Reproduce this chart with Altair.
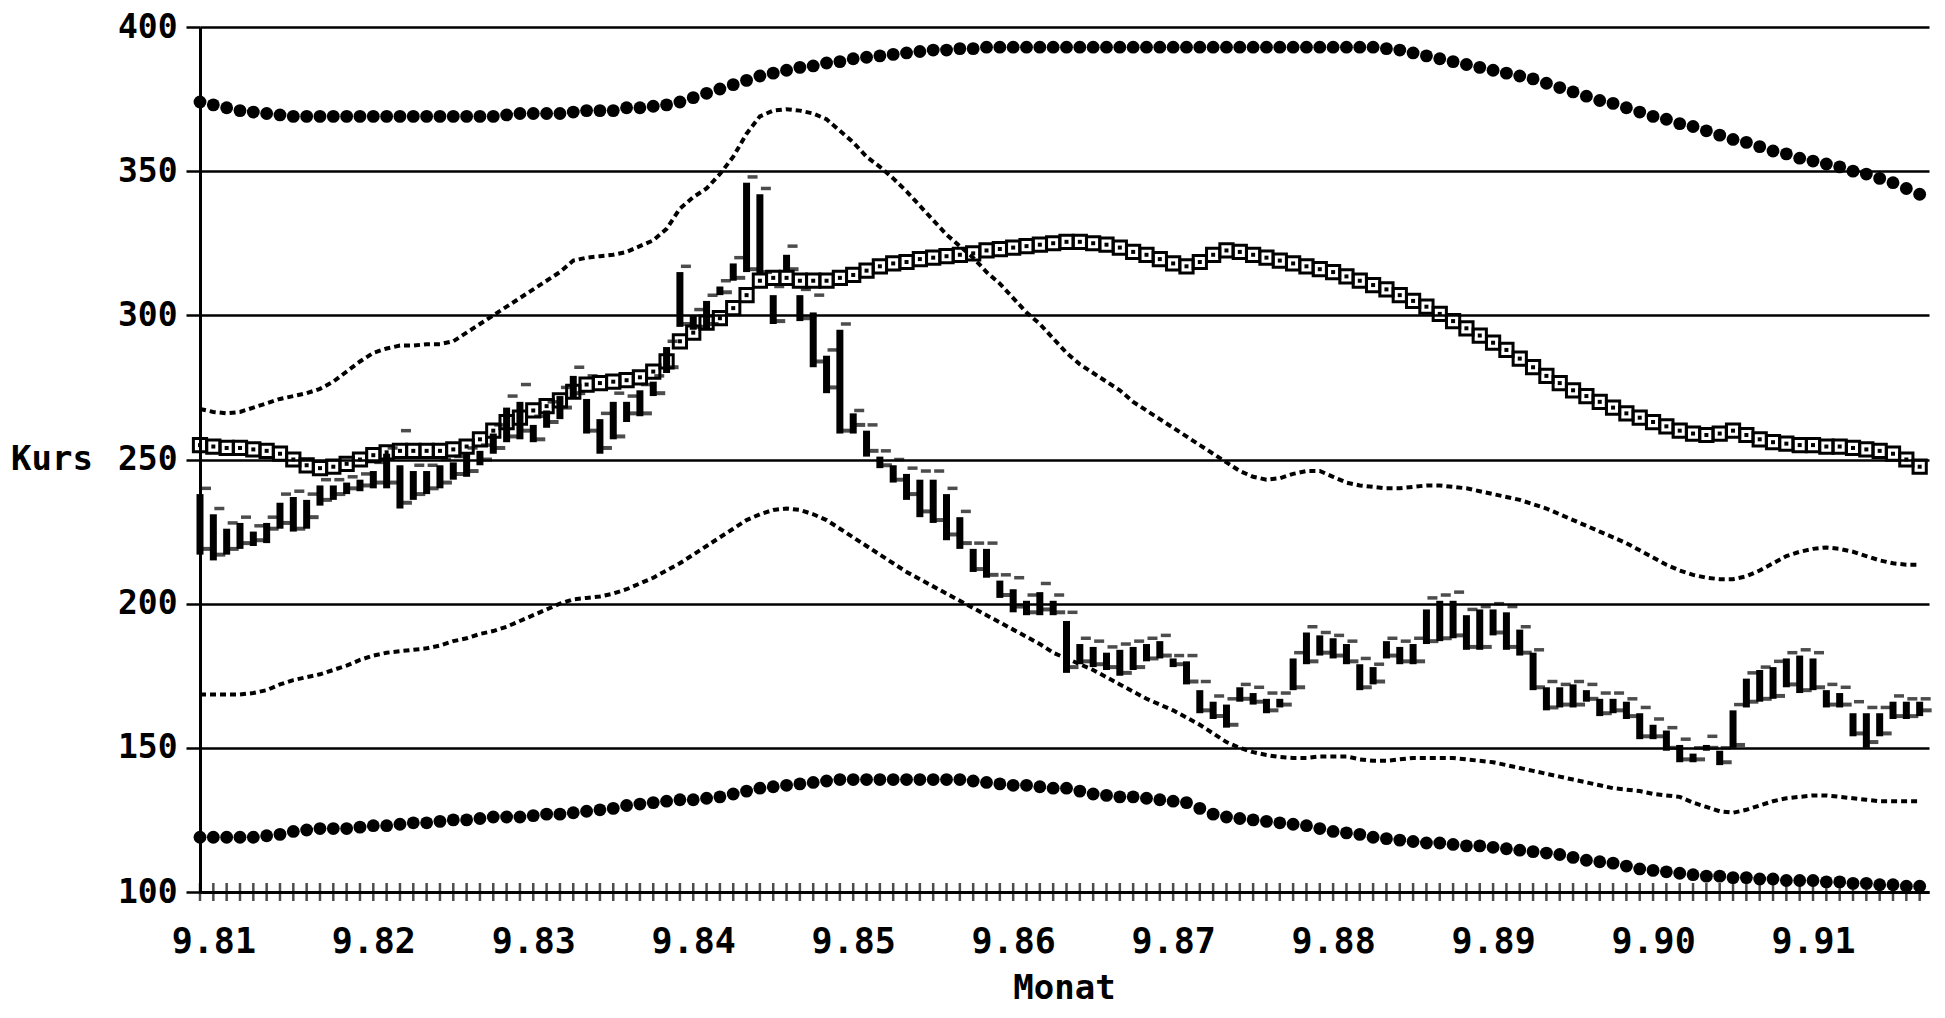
import altair as alt
import pandas as pd

# month index 0 = Aug 1981 ... 129 = May 1992
tick_labels = ["9.81", "9.82", "9.83", "9.84", "9.85", "9.86", "9.87", "9.88", "9.89", "9.90", "9.91"]
label_pos = [1, 13, 25, 37, 49, 61, 73, 85, 97, 109, 121]

upper_band = [374, 373, 372, 371, 370.5, 370, 369.5, 369, 369, 369,
              369, 369, 369, 369, 369, 369, 369, 369, 369, 369,
              369, 369, 369, 369.5, 370, 370, 370, 370, 370.5, 371,
              371, 371, 372, 372, 372.5, 373, 374, 375.5, 377, 378.5,
              380, 381.5, 383, 384, 385, 386, 386.5, 387.5, 388, 389,
              389.5, 390, 390.5, 391, 391.5, 392, 392, 392.5, 392.5, 393,
              393, 393, 393, 393, 393, 393, 393, 393, 393, 393,
              393, 393, 393, 393, 393, 393, 393, 393, 393, 393,
              393, 393, 393, 393, 393, 393, 393, 393, 393, 392.5,
              392, 391, 390, 389, 388, 387, 386, 385, 384, 383,
              382, 380.5, 379, 377.5, 376, 374.5, 373.5, 372, 370.5, 369,
              368, 366.5, 365.5, 364, 362.5, 361, 360, 358.5, 357, 356,
              354.5, 353.5, 352.5, 351.5, 350, 349, 347.5, 346, 344, 342]

lower_band = [119, 119, 119, 119, 119, 119.5, 120, 121, 121.5, 122,
              122, 122, 122.5, 123, 123, 123.5, 124, 124, 124.5, 125,
              125, 125.5, 126, 126, 126, 126.5, 127, 127, 127.5, 128,
              128.5, 129, 130, 130.5, 131, 131.5, 132, 132, 132.5, 133,
              134, 135, 136, 136.5, 137, 137.5, 138, 138.5, 139, 139,
              139, 139, 139, 139, 139, 139, 139, 139, 138.5, 138,
              137.5, 137, 137, 136.5, 136, 136, 135, 134, 133.5, 133,
              133, 132.5, 132, 131.5, 131, 129, 127, 126, 125.5, 125,
              124.5, 124, 123.5, 123, 122, 121, 120.5, 120, 119, 118.5,
              118, 117.5, 117, 117, 116.5, 116, 116, 115.5, 115, 114.5,
              114, 113.5, 113, 112, 111, 110.5, 110, 109, 108, 107.5,
              107, 106.5, 106, 105.5, 105.5, 105, 105, 104.5, 104.5, 104,
              104, 104, 103.5, 103.5, 103, 103, 102.5, 102.5, 102, 102]

upper_dotted = [267.5, 266.5, 266, 266.5, 268, 269.5, 271, 272, 273, 274.5,
                277, 280.5, 284, 287, 288.5, 289.5, 289.5, 290, 290, 291,
                294, 297, 300, 303, 306, 309, 312, 315, 319, 320,
                320.5, 321, 322, 324, 326, 330, 337, 341, 344, 349,
                355, 363, 369, 371, 371.5, 371, 370, 368, 364, 360,
                355, 351.5, 347.5, 343, 338, 333, 328, 324, 320, 315,
                311, 306, 301, 297, 292, 287, 283, 280, 277, 274,
                270, 267, 264, 261, 258, 255, 252, 249, 246, 244,
                243, 243.5, 245, 246, 246, 244, 242, 241, 240.5, 240,
                240, 240.5, 241, 241, 240.5, 240, 239, 238, 237, 236,
                234.5, 233, 231, 229, 227, 225, 223, 221, 218.5, 216,
                213.5, 211.5, 210, 209, 208.5, 208.5, 209.5, 211.5, 214, 216.5,
                218, 219, 219.5, 219, 218, 216.5, 215, 214, 213.5, 213.5]

lower_dotted = [168.5, 168.5, 168.5, 168.5, 169, 170, 172, 173.5, 174.5, 175.5,
                177, 178.5, 180.5, 182, 183, 183.5, 184, 184.5, 185.5, 187,
                188, 189.5, 190.5, 192, 194, 196, 198, 200, 201.5, 202,
                202.5, 203.5, 205, 207, 209, 211.5, 214, 217, 220, 223,
                226, 229, 231, 232.5, 233, 232.5, 231, 229, 226, 223,
                220, 217, 214, 211, 208.5, 206, 203.5, 201, 198.5, 196,
                193.5, 191, 188.5, 186, 183, 181, 179, 177, 174.5, 172,
                169.5, 167, 165, 163, 160.5, 158, 155, 152, 150, 148.5,
                147.5, 146.8, 146.5, 146.5, 147, 147, 147, 146, 145.5, 145.5,
                146, 146.5, 146.5, 146.5, 146.5, 146, 145.5, 145, 144, 143,
                142, 141, 140, 139, 138, 137, 136, 135.5, 135, 134,
                133.5, 133, 131, 129.5, 128, 127.5, 128.5, 130, 131.5, 132.5,
                133, 133.5, 133.5, 133, 132.5, 132, 131.5, 131.5, 131.5, 131.5]

average = [255, 254.5, 254, 254, 253.5, 253, 252, 250, 248, 247,
           247.5, 248.5, 250, 251.5, 252.5, 253, 253, 253, 253, 253.5,
           254.5, 257, 260, 263, 264.5, 267, 268.5, 270.5, 273.5, 276,
           276.5, 277, 277.5, 278.5, 280.5, 284, 291, 294, 297.5, 299,
           302.5, 307, 312, 313, 313, 312, 312, 312, 313, 314,
           315.5, 317, 318, 318.5, 319.5, 320, 320.5, 321, 321.5, 322.5,
           323, 323.5, 324, 324.5, 325, 325.5, 325.5, 325, 324.5, 323.5,
           322, 321, 319.5, 318, 317, 318.5, 321, 322.5, 322, 321,
           320, 319, 318, 317, 316, 315, 313.5, 312, 310.5, 309,
           307, 305, 303, 300.5, 298, 295.5, 293, 290.5, 288, 285,
           282, 279, 276.5, 274, 272, 270, 268, 266, 264.5, 263,
           261.5, 260, 259, 258.5, 259, 260, 258.5, 257, 256, 255.5,
           255, 255, 254.5, 254.5, 254, 253.5, 253, 252, 250, 247.5]

bar_low = [217, 215, 217, 219, 220, 221, 226, 225, 226, 234,
           236, 238, 239, 240, 240, 233, 236, 238, 240, 243,
           244, 248, 252, 256, 257, 256, 261, 264, 271, 259,
           252, 257, 263, 265, 272, 280, 296, 295, 295, 307,
           312, 315, 314, 297, 315, 298, 282, 273, 259, 259,
           251, 247, 242, 236, 230, 228, 222, 219, 211, 209,
           202, 197, 196, 196, 196, 176, 179, 178, 177, 175,
           177, 180, 181, 178, 172, 162, 160, 157, 166, 165,
           162, 164, 170, 179, 182, 181, 179, 170, 172, 181,
           179, 179, 186, 187, 188, 184, 184, 189, 184, 182,
           170, 163, 164, 164, 166, 161, 162, 160, 153, 153,
           149, 145, 145, 149, 144, 150, 164, 166, 167, 171,
           169, 170, 164, 164, 154, 150, 154, 160, 160, 161]

bar_high = [238, 231, 226, 228, 225, 228, 235, 237, 236, 241,
            241, 242, 243, 246, 252, 248, 246, 246, 248, 249,
            252, 253, 259, 268, 270, 262, 267, 272, 279, 271,
            264, 270, 270, 274, 277, 289, 315, 300, 305, 310,
            318, 346, 342, 307, 321, 307, 301, 286, 295, 266,
            260, 251, 248, 245, 243, 243, 238, 230, 219, 219,
            208, 205, 201, 204, 201, 194, 186, 185, 183, 184,
            185, 186, 187, 181, 180, 170, 166, 165, 171, 169,
            167, 167, 181, 190, 189, 188, 186, 179, 178, 187,
            185, 186, 198, 201, 201, 196, 198, 198, 197, 191,
            183, 171, 171, 172, 170, 167, 167, 166, 162, 158,
            156, 151, 148, 151, 149, 163, 174, 177, 178, 181,
            182, 181, 170, 169, 162, 162, 162, 166, 166, 166]

bar_close = [219, 217, 219, 221, 222, 226, 228, 226, 230, 236,
             238, 240, 241, 242, 242, 235, 238, 240, 242, 245,
             246, 250, 254, 258, 260, 257, 263, 268, 273, 260,
             254, 258, 266, 266, 273, 282, 297, 296, 297, 308,
             313, 316, 315, 298, 316, 299, 284, 275, 260, 262,
             253, 248, 243, 238, 232, 229, 224, 221, 212, 210,
             203, 199, 197, 198, 197, 178, 180, 179, 178, 176,
             178, 181, 182, 179, 173, 163, 161, 158, 167, 166,
             163, 165, 171, 180, 183, 182, 180, 171, 173, 182,
             180, 180, 187, 188, 189, 185, 185, 190, 185, 183,
             171, 164, 165, 165, 167, 162, 163, 161, 154, 154,
             150, 146, 146, 150, 145, 151, 166, 167, 168, 172,
             170, 171, 165, 165, 155, 152, 155, 161, 161, 163]

bar_mark = [240, 233, 228, 230, 227, 230, 238, 239, 238, 243,
            243, 244, 245, 249, 254, 260, 248, 248, 250, 251,
            254, 255, 262, 272, 276, 265, 270, 275, 282, 279,
            266, 273, 272, 276, 279, 291, 317, 302, 307, 312,
            320, 348, 344, 310, 324, 309, 307, 288, 297, 267,
            262, 253, 250, 247, 246, 246, 240, 232, 221, 221,
            210, 209, 203, 207, 203, 197, 188, 187, 185, 186,
            187, 188, 189, 182, 182, 173, 168, 167, 172, 171,
            169, 169, 183, 192, 190, 189, 187, 181, 179, 188,
            187, 188, 202, 203, 204, 198, 199, 200, 199, 192,
            184, 173, 172, 173, 172, 169, 169, 167, 164, 160,
            157, 153, 150, 154, 150, 165, 176, 178, 180, 183,
            184, 183, 172, 171, 166, 164, 164, 168, 167, 167]

x_title = "Monat"
y_title = "Kurs"

n = len(upper_band)
df = pd.DataFrame({
    "i": list(range(n)),
    "upper": upper_band, "lower": lower_band,
    "ud": upper_dotted, "ld": lower_dotted, "avg": average,
    "lo": bar_low, "hi": bar_high, "cl": bar_close, "mk": bar_mark,
    "base": [100] * n,
})

FONT = "DejaVu Sans Mono"
label_js = "[" + ",".join("'" + s + "'" for s in tick_labels) + "]"

PLOT_W = 1729
PLOT_H = 865

xscale = alt.Scale(domain=[0, 129.7], nice=False, zero=False)
yscale = alt.Scale(domain=[100, 400], nice=False, zero=False)

xaxis = alt.Axis(values=label_pos, labelExpr=label_js + "[round((datum.value - 1) / 12)]",
                 ticks=False, grid=False, domainColor="black", domainWidth=3,
                 labelFont=FONT, labelFontSize=35, labelFontWeight="bold", labelColor="black",
                 labelPadding=32, labelFlush=False, title=None)
yaxis = alt.Axis(values=[100, 150, 200, 250, 300, 350, 400], grid=True, gridColor="black",
                 gridWidth=2.5, gridOpacity=1, domainColor="black", domainWidth=3,
                 tickColor="black", tickSize=14, tickWidth=2.5,
                 labelFont=FONT, labelFontSize=33, labelFontWeight="bold", labelColor="black",
                 labelPadding=9, title=None)

def X():
    return alt.X("i:Q", scale=xscale, axis=xaxis)

def Y(field):
    return alt.Y(field + ":Q", scale=yscale, axis=yaxis)

base = alt.Chart(df)

month_ticks = base.mark_tick(orient="vertical", color="black", size=18, thickness=2.5).encode(x=X(), y=Y("base"))

ud_line = base.mark_line(color="black", strokeWidth=4, strokeDash=[6, 4]).encode(x=X(), y=Y("ud"))
ld_line = base.mark_line(color="black", strokeWidth=4, strokeDash=[6, 4]).encode(x=X(), y=Y("ld"))

up_pts = base.mark_point(shape="circle", filled=True, color="black", size=165, opacity=1).encode(x=X(), y=Y("upper"))
lo_pts = base.mark_point(shape="circle", filled=True, color="black", size=165, opacity=1).encode(x=X(), y=Y("lower"))

avg_sq = base.mark_point(shape="square", filled=False, color="black", size=175, strokeWidth=3, opacity=1).encode(x=X(), y=Y("avg"))
avg_dot = base.mark_point(shape="square", filled=True, color="black", size=16, opacity=1).encode(x=X(), y=Y("avg"))

bar_rule = base.mark_rule(color="black", strokeWidth=7).encode(x=X(), y=Y("lo"), y2="hi:Q")
bar_close_t = base.mark_tick(orient="horizontal", color="black", size=10, thickness=4, xOffset=7).encode(x=X(), y=Y("cl"))
bar_mark_t = base.mark_tick(orient="horizontal", color="black", size=10, thickness=3.5, xOffset=6).encode(x=X(), y=Y("mk"))

xt = alt.Chart(pd.DataFrame({"t": [x_title]})).mark_text(
    font=FONT, fontSize=34, fontWeight="bold", color="black", align="center", baseline="middle"
).encode(text="t:N", x=alt.value(PLOT_W / 2), y=alt.value(PLOT_H + 97))

yt = alt.Chart(pd.DataFrame({"t": [y_title]})).mark_text(
    font=FONT, fontSize=34, fontWeight="bold", color="black", align="right", baseline="middle"
).encode(text="t:N", x=alt.value(-107), y=alt.value(PLOT_H / 2))

chart = alt.layer(
    month_ticks, ud_line, ld_line, up_pts, lo_pts, avg_sq, avg_dot, bar_rule, bar_close_t, bar_mark_t,
    xt, yt
).properties(
    width=PLOT_W, height=PLOT_H,
    autosize=alt.AutoSizeParams(type="none"),
    padding={"left": 192, "top": 19, "right": 4, "bottom": 116},
    background="white",
).configure_view(stroke=None)

chart.save("out.html", embed_options={"renderer": "svg", "actions": False})
